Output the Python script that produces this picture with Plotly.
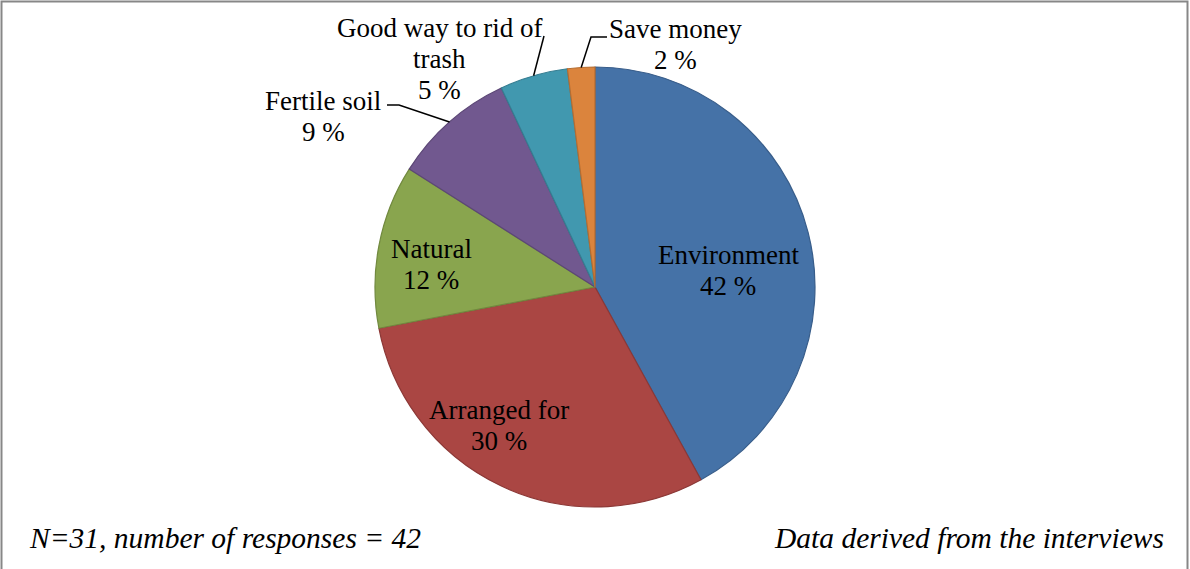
import math
import plotly.graph_objects as go

# Reasons given for composting (share of responses, %)
categories = ["Environment", "Arranged for", "Natural", "Fertile soil",
              "Good way to rid of trash", "Save money"]
shares = [42, 30, 12, 9, 5, 2]

fill_colors = ["#4572A7", "#AA4643", "#89A54E", "#71588F", "#4198AF", "#DB843D"]
edge_colors = ["#385D8A", "#8C3836", "#71893F", "#5C4776", "#357D91", "#B66D31"]

# Text lines of each label (last line carries the value)
label_lines = [
    ["Environment"],
    ["Arranged for"],
    ["Natural"],
    ["Fertile soil"],
    ["Good way to rid of", "trash"],
    ["Save money"],
]

W, H = 1190, 569
CX, CY, R = 595, 287, 220          # pie centre and radius in pixels
FONT = "Liberation Serif"
FS = 27
FOOT_FS = 29.5
LINE_H = 31

# Label block centres (pixels) and leader-line elbows for outside labels
label_pos = [(728, 270), (499, 425), (431, 264), (323, 116), (439, 59), (675, 44)]
leaders = {3: [(399, 105), (387, 105)], 4: [(544, 36)], 5: [(591, 37), (607, 37)]}

fig = go.Figure()

fig.add_trace(go.Pie(
    labels=categories,
    values=shares,
    sort=False,
    direction="clockwise",
    rotation=0,
    textinfo="none",
    hoverinfo="label+percent",
    marker=dict(colors=fill_colors, line=dict(color=edge_colors, width=1.2)),
    domain=dict(x=[(CX - R) / W, (CX + R) / W],
                y=[1 - (CY + R) / H, 1 - (CY - R) / H]),
    showlegend=False,
))

annotations = []
shapes = []

total = sum(shares)
start = 0.0
for i, (cat, v) in enumerate(zip(categories, shares)):
    mid = (start + v / 2) / total * 2 * math.pi
    start += v
    lines = label_lines[i] + [f"{v} %"]
    lx, ly = label_pos[i]
    n = len(lines)
    for k, txt in enumerate(lines):
        annotations.append(dict(
            x=lx, y=ly + (k - (n - 1) / 2) * LINE_H, xref="x", yref="y",
            text=txt, showarrow=False, xanchor="center", yanchor="middle",
            font=dict(family=FONT, size=FS, color="black"),
        ))
    if i in leaders:
        ax = CX + R * math.sin(mid)
        ay = CY - R * math.cos(mid)
        pts = [(ax, ay)] + leaders[i]
        path = "M " + " L ".join(f"{px},{py}" for px, py in pts)
        shapes.append(dict(type="path", path=path, xref="x", yref="y",
                           line=dict(color="black", width=1.5)))

# Footer notes
annotations.append(dict(x=27, y=538, xref="x", yref="y", xanchor="left",
                        yanchor="middle", showarrow=False,
                        text="<i>N=31, number of responses = 42</i>",
                        font=dict(family=FONT, size=FOOT_FS, color="black")))
annotations.append(dict(x=1166, y=538, xref="x", yref="y", xanchor="right",
                        yanchor="middle", showarrow=False,
                        text="<i>Data derived from the interviews</i>",
                        font=dict(family=FONT, size=FOOT_FS, color="black")))

# Outer frame
shapes.append(dict(type="rect", xref="x", yref="y", x0=1.5, y0=1.5,
                   x1=1187.5, y1=H + 3, line=dict(color="#878787", width=2)))

fig.update_layout(
    width=W, height=H,
    margin=dict(l=0, r=0, t=0, b=0),
    paper_bgcolor="white", plot_bgcolor="rgba(0,0,0,0)",
    xaxis=dict(range=[0, W], visible=False, fixedrange=True, domain=[0, 1]),
    yaxis=dict(range=[H, 0], visible=False, fixedrange=True, domain=[0, 1]),
    annotations=annotations,
    shapes=shapes,
)

fig.write_html("out.html")
